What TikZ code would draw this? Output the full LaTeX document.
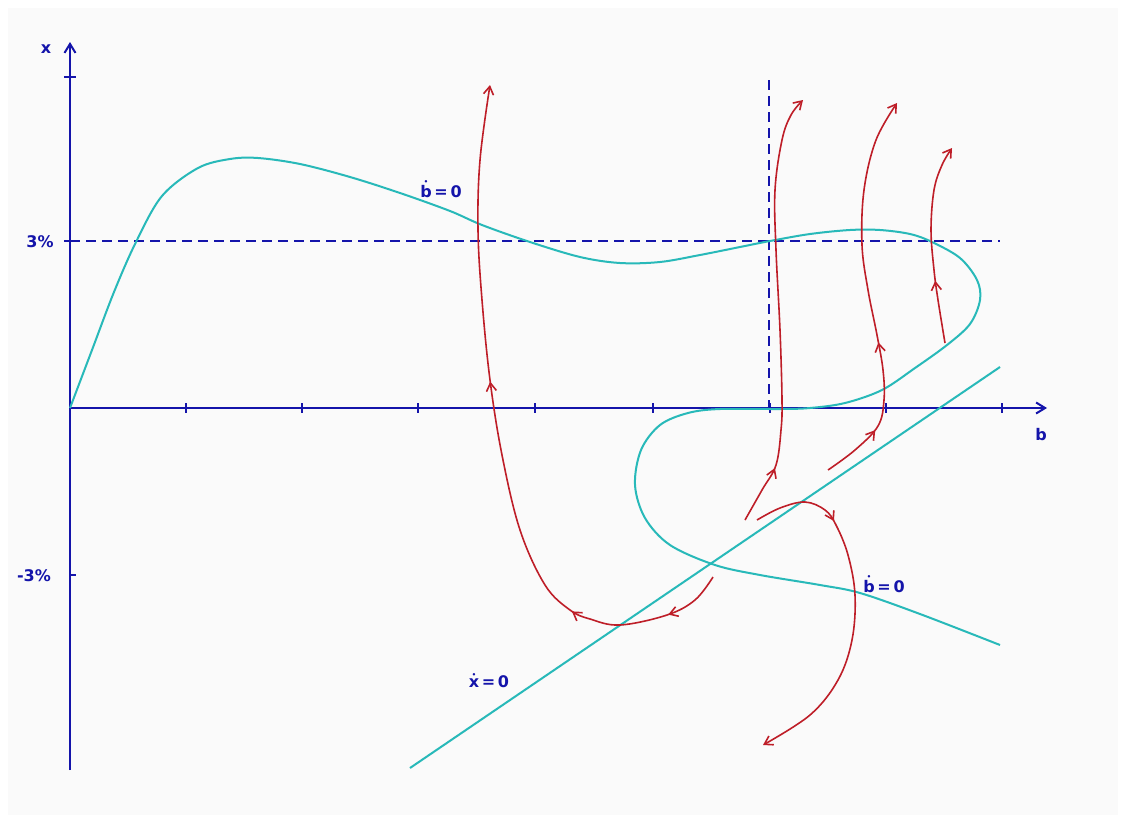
\documentclass[tikz,border=0pt]{standalone}
\usepackage{fontspec}
\setmainfont{DejaVu Sans}
\usepackage{amsmath,amsbsy}
\usetikzlibrary{arrows.meta,decorations.markings}
\definecolor{axisblue}{RGB}{20,20,170}
\definecolor{nullc}{RGB}{40,185,185}
\definecolor{trajred}{RGB}{190,30,40}
\definecolor{bgc}{RGB}{250,250,250}
\newcommand\dotover[1]{$\boldsymbol{\dot{\hbox{#1}}}$}
\tikzset{
  ax/.style={draw=axisblue,line width=2pt},
  tickm/.style={draw=axisblue,line width=1.6pt},
  dsh/.style={draw=axisblue,line width=1.3pt,dash pattern=on 10pt off 6pt},
  ncurve/.style={draw=nullc,line width=2pt},
  traj/.style={draw=trajred,line width=1.6pt},
  lbl/.style={text=axisblue,font=\fontsize{16}{18}\selectfont\bfseries,inner sep=0pt},
  tip/.style={-{Straight Barb[length=8pt,width=10pt]}},
  midarr/.style={postaction={decorate,decoration={markings,
     mark=at position #1 with {\arrow{Straight Barb[length=8pt,width=10pt]}}}}}
}
\begin{document}
\begin{tikzpicture}[x=1pt,y=-1pt]
\useasboundingbox (0,0) rectangle (1126,825);
\fill[bgc] (8,8) rectangle (1118,815);
% axes
\draw[ax,-{Straight Barb[length=9pt,width=11pt]}] (70,770) -- (70,42);
\draw[ax,-{Straight Barb[length=9pt,width=11pt]}] (70,408) -- (1047,408);
\foreach \t in {186,302,418,535,653,770,886,1002}
  \draw[tickm] (\t,403) -- (\t,413);
\draw[tickm] (64,77) -- (76,77);
\draw[tickm] (64,241) -- (76,241);
\draw[tickm] (70,575) -- (76,575);
% dashed guides
\draw[dsh] (70,241) -- (1000,241);
\draw[dsh] (769,80) -- (769,408);
% labels
\node[lbl] (lx) at (46,49) {x};
\node[lbl] (lb) at (1041,435) {b};
\node[lbl] (l3) at (40,242) {3\%};
\node[lbl] (lm3) at (34,576) {-3\%};
\node[lbl,anchor=base] (bd1) at (441,197) {\dotover{b}\,=\,0};
\node[lbl,anchor=base] (bd2) at (884,592) {\dotover{b}\,=\,0};
\node[lbl,anchor=base] (xd) at (489,687) {\dotover{x}\,=\,0};
% x-dot = 0 line
\draw[ncurve] (410,768) -- (1000,367);
% b-dot = 0 curve
\draw[ncurve] plot[smooth,tension=0.55] coordinates {
 (70,408) (92,350) (114,292) (136,242) (162,196) (198,168) (230,159) (258,158)
 (300,164) (350,177) (400,193) (450,211) (482,225) (530,242) (580,257) (620,263)
 (660,262) (700,255) (740,247) (770,241) (810,234) (850,230) (880,230) (910,234)
 (932,242) (960,258) (977,280) (980,300) (970,324) (947,345) (915,368) (882,390)
 (845,403) (810,408) (780,409) (720,409) (688,413) (660,425) (641,450) (635,485)
 (645,518) (670,545) (715,565) (760,575) (820,585) (860,593) (920,614) (1000,645)};
% trajectories
\draw[traj,tip,midarr=60pt,midarr=160pt,midarr=410pt] plot[smooth,tension=0.6] coordinates {
 (713,577) (695,600) (667,615) (620,625) (590,619) (570,610) (545,585) (520,530)
 (502,455) (490,380) (482,300) (478,230) (480,160) (490,85)};
\draw[traj,tip,midarr=60pt] plot[smooth,tension=0.6] coordinates {
 (745,520) (762,490) (776,465) (781,430) (782,400) (780,330) (776,250) (775,190)
 (782,140) (791,115) (803,100)};
\draw[traj,tip,midarr=62pt,midarr=152pt] plot[smooth,tension=0.6] coordinates {
 (828,470) (855,450) (878,426) (884,400) (883,370) (877,335) (868,290) (862,245)
 (864,190) (876,140) (897,103)};
\draw[traj,tip,midarr=63pt] plot[smooth,tension=0.6] coordinates {
 (945,343) (938,300) (934,270) (931,230) (934,190) (942,165) (952,148)};
\draw[traj,tip,midarr=88pt] plot[smooth,tension=0.6] coordinates {
 (757,520) (780,508) (805,502) (825,510) (836,525) (848,555) (855,595) (852,640)
 (838,680) (810,715) (763,745)};
\end{tikzpicture}
\end{document}
